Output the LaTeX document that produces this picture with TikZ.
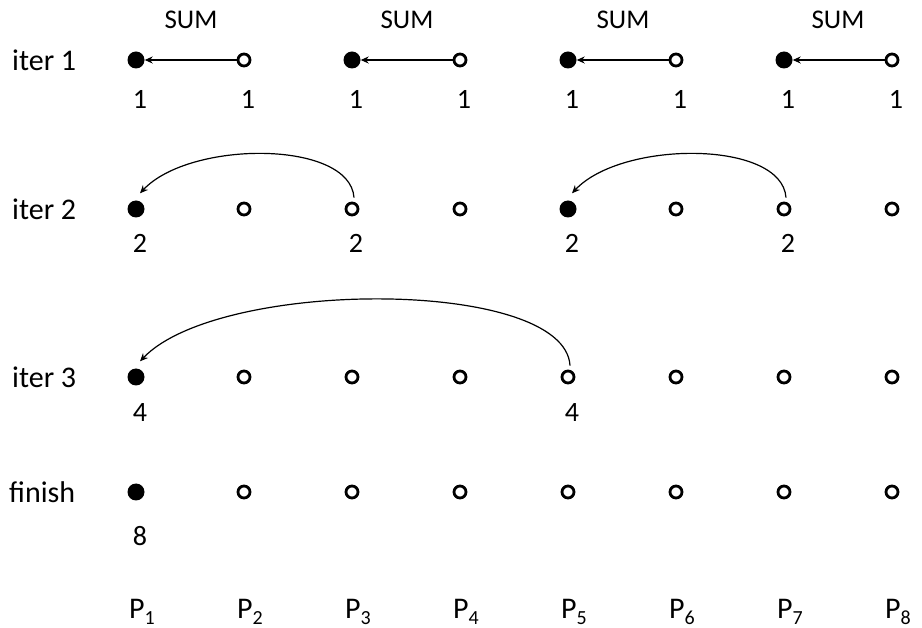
\documentclass[tikz,border=0pt]{standalone}
\usepackage{fontspec}
\setmainfont{Carlito}
\usetikzlibrary{arrows.meta}
\begin{document}
\begin{tikzpicture}[x=1pt,y=-1pt,
  txt/.style={inner sep=0pt,font=\fontsize{28}{32}\selectfont},
  rowlab/.style={inner sep=0pt,anchor=west,font=\fontsize{30}{34}\selectfont},
  sumlab/.style={inner sep=0pt,font=\fontsize{27}{32}\selectfont},
  plab/.style={inner sep=0pt,anchor=base west,font=\fontsize{30}{34}\selectfont},
  fdot/.style={circle,fill=black,minimum size=17pt,inner sep=0pt},
  odot/.style={circle,draw=black,line width=2.8pt,fill=white,minimum size=12pt,inner sep=0pt},
  arr/.style={line width=1.2pt,-{Stealth[length=8pt,width=7pt]}}]
\useasboundingbox (0,0) rectangle (922,628);
\fill[white] (0,0) rectangle (922,628);
% row labels
\node[rowlab] (l1) at (12,60) {iter 1};
\node[rowlab] (l2) at (12,209) {iter 2};
\node[rowlab] (l3) at (12,377) {iter 3};
\node[rowlab] (l4) at (9,492) {finish};
% SUM labels
\foreach \i/\x in {1/191,2/407,3/623,4/838}
  \node[sumlab] (sum\i) at (\x,20) {SUM};
% dots
\foreach \c in {1,...,8}{
  \pgfmathsetmacro{\xx}{136+108*(\c-1)}
  % row 1
  \pgfmathtruncatemacro{\odd}{mod(\c,2)}
  \ifnum\odd=1
    \node[fdot] (d1\c) at (\xx,60) {};
  \else
    \node[odot] (d1\c) at (\xx,60) {};
  \fi
  \node[txt] (n1\c) at (\xx+4,99) {1};
  % P labels
  \node[plab] (p\c) at (\xx-7,618) {P\raisebox{-0.2em}{\fontsize{20}{20}\selectfont\c}};
}
% row 2
\foreach \c in {1,...,8}{
  \pgfmathsetmacro{\xx}{136+108*(\c-1)}
  \ifnum\c=1 \node[fdot] (d2\c) at (\xx,209) {};
  \else\ifnum\c=5 \node[fdot] (d2\c) at (\xx,209) {};
  \else \node[odot] (d2\c) at (\xx,209) {};
  \fi\fi
}
% row 3
\node[fdot] (d31) at (136,377) {};
\foreach \c in {2,...,8}{
  \pgfmathsetmacro{\xx}{136+108*(\c-1)}
  \node[odot] (d3\c) at (\xx,377) {};
}
% row 4
\node[fdot] (d41) at (136,492) {};
\foreach \c in {2,...,8}{
  \pgfmathsetmacro{\xx}{136+108*(\c-1)}
  \node[odot] (d4\c) at (\xx,492) {};
}
% value labels
\node[txt] (n21) at (140,243) {2};
\node[txt] (n23) at (356,243) {2};
\node[txt] (n25) at (572,243) {2};
\node[txt] (n27) at (788,243) {2};
\node[txt] (n31) at (140,413) {4};
\node[txt] (n35) at (572,413) {4};
\node[txt] (n41) at (140,536) {8};
% iter 1 arrows
\foreach \a/\b in {1/2,3/4,5/6,7/8}
  \draw[arr] (d1\b.west) -- (d1\a.east);
% iter 2 arrows
\draw[arr] ([shift={(2pt,4pt)}]d23.north) .. controls (350,140) and (190,140) .. ([shift={(4pt,7pt)}]d21.north);
\draw[arr] ([shift={(2pt,4pt)}]d27.north) .. controls (782,140) and (622,140) .. ([shift={(4pt,7pt)}]d25.north);
% iter 3 arrow
\draw[arr] ([shift={(2pt,4pt)}]d35.north) .. controls (565,278) and (220,278) .. ([shift={(4pt,7pt)}]d31.north);
\end{tikzpicture}
\end{document}
